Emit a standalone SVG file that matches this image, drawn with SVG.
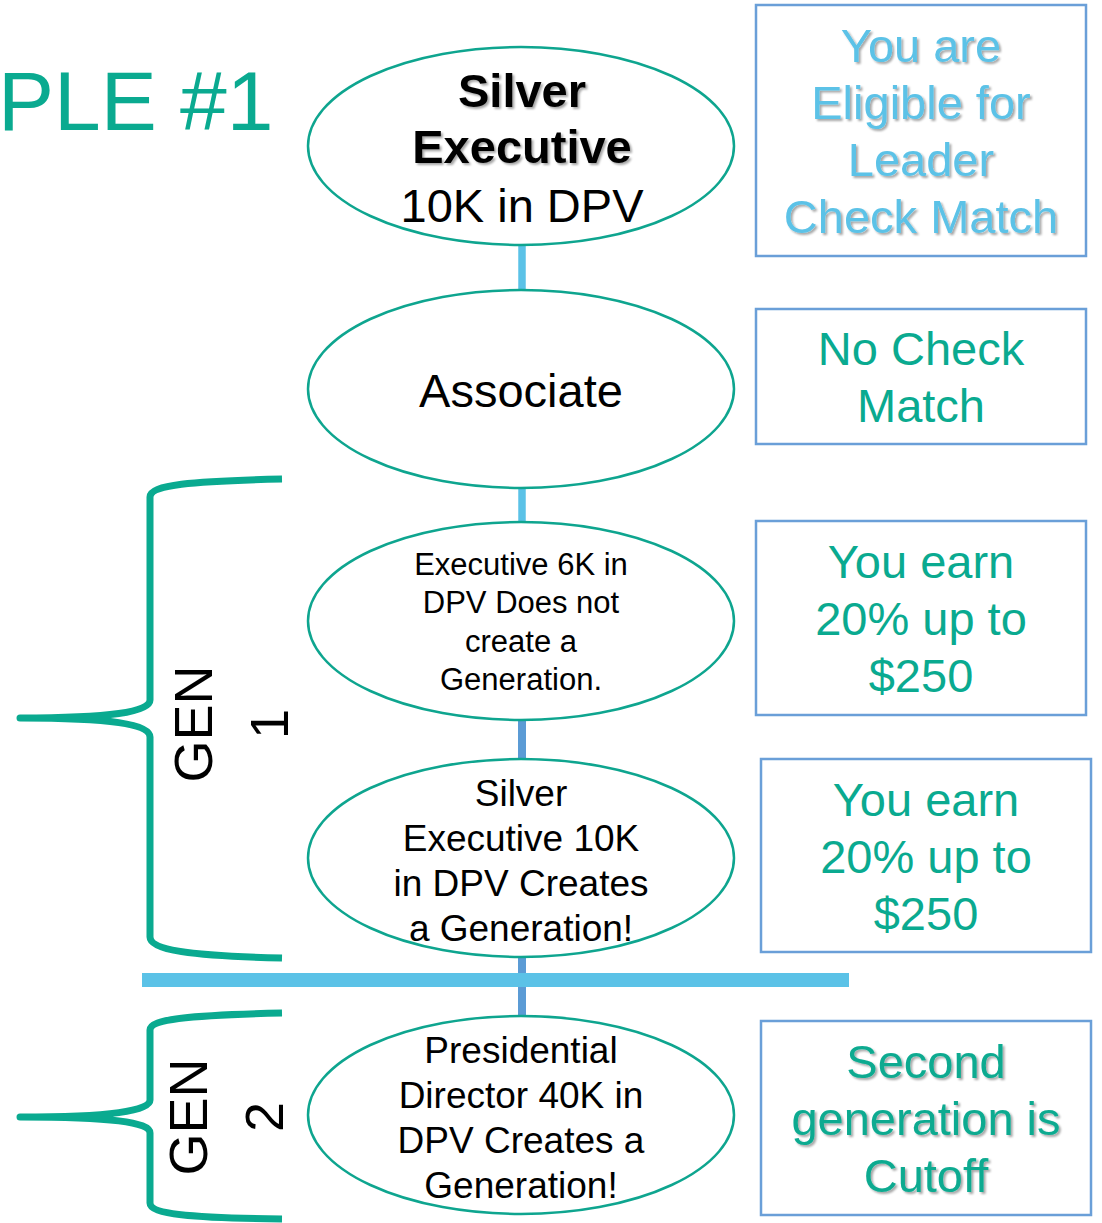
<svg xmlns="http://www.w3.org/2000/svg" width="1102" height="1223" viewBox="0 0 1102 1223">
<style>
.t{font-family:"Liberation Sans",Arial,sans-serif}
.el{fill:#fff;stroke:#0EA58F;stroke-width:2.5}
.box{fill:#fff;stroke:#6A9FD8;stroke-width:2.5}
.lb{stroke:#5BC2E7;stroke-width:7.5}
.db{stroke:#5B9BD5;stroke-width:8}
.brace{fill:none;stroke:#0AAA90;stroke-width:7;stroke-linejoin:round;stroke-linecap:butt}
.bx{font-size:47px;text-anchor:middle}
.teal{fill:#0AAA90}
.sky{fill:#5BC2E7}
.blk{fill:#000}
.mid{text-anchor:middle}
</style>
<defs>
<filter id="sh" x="-10%" y="-10%" width="130%" height="140%">
<feDropShadow dx="2" dy="2" stdDeviation="1" flood-color="#000" flood-opacity="0.35"/>
</filter>
</defs>
<rect width="1102" height="1223" fill="#fff"/>
<text id="title" class="t teal" x="-2" y="130" font-size="84">PLE #1</text>
<g id="connectors">
<line class="lb" x1="522" y1="245" x2="522" y2="290"/>
<line class="lb" x1="522" y1="488" x2="522" y2="522"/>
<line class="db" x1="522" y1="720" x2="522" y2="759"/>
<line class="db" x1="522" y1="958" x2="522" y2="1016"/>
<rect x="142" y="973" width="707" height="14" fill="#5BC2E7"/>
</g>
<g id="brace1">
<path class="brace" d="M282,479 C190,481 150,485 150,497 V700 C150,712 110,718 20,718 C110,718 150,724 150,737 V937 C150,950 190,956 282,958"/>
<text class="t blk mid" font-size="54" transform="translate(212,724) rotate(-90)"><tspan x="0" y="0">GEN</tspan><tspan x="0" y="76">1</tspan></text>
</g>
<g id="brace2">
<path class="brace" d="M282,1013 C190,1015 150,1019 150,1030 V1100 C150,1111 110,1117 20,1117 C110,1117 150,1122 150,1133 V1203 C150,1214 190,1218 282,1219"/>
<text class="t blk mid" font-size="54" transform="translate(207,1117) rotate(-90)"><tspan x="0" y="0">GEN</tspan><tspan x="0" y="76">2</tspan></text>
</g>
<g id="n1">
<ellipse class="el" cx="521" cy="146" rx="213" ry="99"/>
<text class="t blk mid" font-size="47" x="522"><tspan x="522" y="107" font-weight="bold" filter="url(#sh)">Silver</tspan><tspan x="522" y="163" font-weight="bold" filter="url(#sh)">Executive</tspan><tspan x="522" y="222">10K in DPV</tspan></text>
</g>
<g id="n2">
<ellipse class="el" cx="521" cy="389" rx="213" ry="99"/>
<text class="t blk mid" font-size="47" x="521" y="407">Associate</text>
</g>
<g id="n3">
<ellipse class="el" cx="521" cy="621" rx="213" ry="99"/>
<text class="t blk mid" font-size="31"><tspan x="521" y="575">Executive 6K in</tspan><tspan x="521" y="613">DPV Does not</tspan><tspan x="521" y="652">create a</tspan><tspan x="521" y="690">Generation.</tspan></text>
</g>
<g id="n4">
<ellipse class="el" cx="521" cy="858" rx="213" ry="99"/>
<text class="t blk mid" font-size="37"><tspan x="521" y="806">Silver</tspan><tspan x="521" y="851">Executive 10K</tspan><tspan x="521" y="896">in DPV Creates</tspan><tspan x="521" y="941">a Generation!</tspan></text>
</g>
<g id="n5">
<ellipse class="el" cx="521" cy="1115" rx="213" ry="99"/>
<text class="t blk mid" font-size="37"><tspan x="521" y="1063">Presidential</tspan><tspan x="521" y="1108">Director 40K in</tspan><tspan x="521" y="1153">DPV Creates a</tspan><tspan x="521" y="1198">Generation!</tspan></text>
</g>
<g id="b1">
<rect class="box" x="756" y="5" width="330" height="251"/>
<text class="t bx sky" filter="url(#sh)"><tspan x="921" y="62">You are</tspan><tspan x="921" y="119">Eligible for</tspan><tspan x="921" y="176">Leader</tspan><tspan x="921" y="233">Check Match</tspan></text>
</g>
<g id="b2">
<rect class="box" x="756" y="309" width="330" height="135"/>
<text class="t bx teal"><tspan x="921" y="365">No Check</tspan><tspan x="921" y="422">Match</tspan></text>
</g>
<g id="b3">
<rect class="box" x="756" y="521" width="330" height="194"/>
<text class="t bx teal"><tspan x="921" y="578">You earn</tspan><tspan x="921" y="635">20% up to</tspan><tspan x="921" y="692">$250</tspan></text>
</g>
<g id="b4">
<rect class="box" x="761" y="759" width="330" height="193"/>
<text class="t bx teal"><tspan x="926" y="816">You earn</tspan><tspan x="926" y="873">20% up to</tspan><tspan x="926" y="930">$250</tspan></text>
</g>
<g id="b5">
<rect class="box" x="761" y="1021" width="330" height="194"/>
<text class="t bx teal" filter="url(#sh)"><tspan x="926" y="1078">Second</tspan><tspan x="926" y="1135">generation is</tspan><tspan x="926" y="1192">Cutoff</tspan></text>
</g>
</svg>
